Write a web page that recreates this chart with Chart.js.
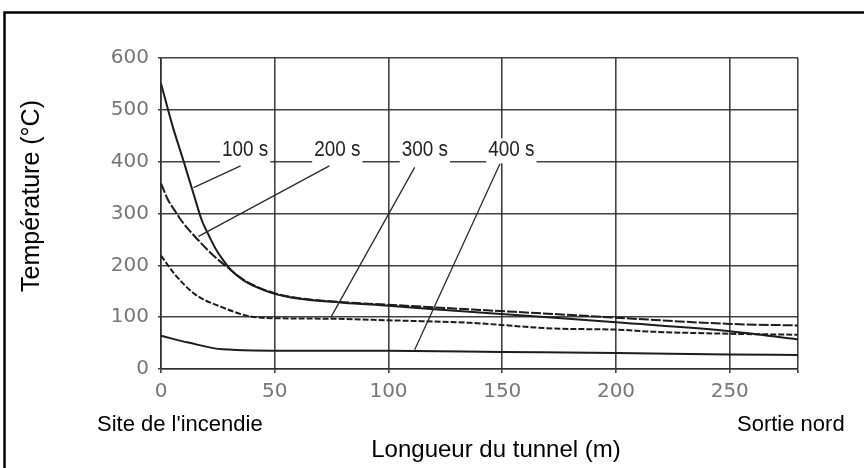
<!DOCTYPE html>
<html lang="fr">
<head>
<meta charset="utf-8">
<title>Température dans le tunnel</title>
<script src="https://cdn.jsdelivr.net/npm/chart.js@4/dist/chart.umd.min.js"></script>
<style>
  html, body { margin: 0; padding: 0; background: #fff; }
  #wrap { position: relative; width: 864px; height: 468px; }
</style>
</head>
<body>
<div id="wrap"><canvas id="c"></canvas></div>
<script>
// Axis ticks
const xTicks = [0, 50, 100, 150, 200, 250, 280];
const yTicks = [0, 100, 200, 300, 400, 500, 600];

// Temperature profiles along the tunnel (distance in m, temperature in °C)
const dist100 = [0, 5, 10, 14.3, 18, 21, 24, 27, 31, 36, 42, 50, 60, 80, 100, 140, 170, 200, 250, 280];
const temp100 = [551, 470, 400, 338, 286, 258, 232, 212, 190, 172, 158, 145, 136, 128, 122, 109, 100, 90, 73, 57];

const dist200 = [0, 3, 6, 9, 16.5, 24, 29, 36, 42, 50, 60, 80, 100, 140, 173, 200, 250, 280];
const temp200 = [358, 327, 306, 286, 248, 215, 197, 173, 159, 146, 137, 129, 124, 114, 106, 99, 87, 84];

const dist300 = [0, 6, 15, 27, 38.6, 50, 75, 100, 136, 173, 200, 216, 250, 280];
const temp300 = [219, 183, 144, 119, 102, 98, 97, 94, 89, 78, 76, 72, 68, 66];

const dist400 = [0, 12, 27, 59, 100, 150, 200, 250, 280];
const temp400 = [64, 51, 38, 35, 35, 33, 31, 28, 27];

// Curve labels and their leader lines (data coordinates)
const labelText = ['100 s', '200 s', '300 s', '400 s'];
const labelX = [37, 77.5, 116, 154];
const labelY = [422, 422, 422, 422];
const leaderFromX = [35, 74, 111.5, 149];
const leaderFromY = [392, 392, 389, 396];
const leaderToX = [14.3, 16.5, 74.6, 111.5];
const leaderToY = [350, 256, 99, 37];

const pts = (xs, ys) => xs.map((v, i) => ({ x: v, y: ys[i] }));

const ink = '#1c1c1c';
const gridInk = 'rgba(45,45,45,0.9)';
const tickInk = '#767676';
const textFont = '"Liberation Sans", Arial, Helvetica, sans-serif';
const tickFont = { family: '"DejaVu Sans", Verdana, sans-serif', size: 20 };

const series = [
  { label: '100 s', data: pts(dist100, temp100), borderDash: [] },
  { label: '200 s', data: pts(dist200, temp200), borderDash: [10, 2] },
  { label: '300 s', data: pts(dist300, temp300), borderDash: [6, 2] },
  { label: '400 s', data: pts(dist400, temp400), borderDash: [] }
].map(s => Object.assign(s, {
  borderColor: ink,
  borderWidth: 2,
  pointRadius: 0,
  fill: false,
  cubicInterpolationMode: 'monotone'
}));

// Leader lines, boxed labels, titles and outer frame
const annotate = {
  id: 'annotate',
  afterDatasetsDraw(chart) {
    const { ctx, scales: { x, y } } = chart;
    ctx.save();
    ctx.strokeStyle = '#2a2a2a';
    ctx.lineWidth = 1.3;
    for (let i = 0; i < leaderFromX.length; i++) {
      ctx.beginPath();
      ctx.moveTo(x.getPixelForValue(leaderFromX[i]), y.getPixelForValue(leaderFromY[i]));
      ctx.lineTo(x.getPixelForValue(leaderToX[i]), y.getPixelForValue(leaderToY[i]));
      ctx.stroke();
    }
    ctx.font = '22px ' + textFont;
    ctx.textAlign = 'center';
    ctx.textBaseline = 'middle';
    const squeeze = 0.86;
    for (let i = 0; i < labelText.length; i++) {
      const px = x.getPixelForValue(labelX[i]);
      const py = y.getPixelForValue(labelY[i]);
      const w = ctx.measureText(labelText[i]).width * squeeze;
      ctx.fillStyle = '#fff';
      ctx.fillRect(px - w / 2 - 2, py - 12, w + 4, 25);
      ctx.save();
      ctx.translate(px, py);
      ctx.scale(squeeze, 1);
      ctx.fillStyle = '#222';
      ctx.fillText(labelText[i], 0, 0);
      ctx.restore();
    }
    ctx.restore();
  },
  afterDraw(chart) {
    const { ctx } = chart;
    ctx.save();
    ctx.fillStyle = '#000';
    ctx.textBaseline = 'middle';
    ctx.textAlign = 'left';
    ctx.font = '22px ' + textFont;
    ctx.fillText("Site de l'incendie", 97, 425);
    ctx.fillText('Sortie nord', 737, 425);
    ctx.font = '24px ' + textFont;
    ctx.textAlign = 'center';
    ctx.fillText('Longueur du tunnel (m)', 496, 450);
    ctx.font = '25px ' + textFont;
    ctx.translate(32, 196);
    ctx.rotate(-Math.PI / 2);
    ctx.fillText('Température (°C)', 0, 0);
    ctx.restore();

    ctx.save();
    ctx.strokeStyle = '#000';
    ctx.lineWidth = 2.5;
    ctx.beginPath();
    ctx.moveTo(4.5, 468);
    ctx.lineTo(4.5, 12.5);
    ctx.lineTo(864, 12.5);
    ctx.stroke();
    ctx.restore();
  }
};

new Chart(document.getElementById('c'), {
  type: 'line',
  data: { datasets: series },
  options: {
    responsive: true,
    maintainAspectRatio: false,
    animation: false,
    layout: { padding: { top: 58, right: 66, left: 0, bottom: 0 } },
    plugins: { legend: { display: false }, tooltip: { enabled: false }, title: { display: false } },
    scales: {
      x: {
        type: 'linear',
        min: 0,
        max: 280,
        afterBuildTicks: s => { s.ticks = xTicks.map(v => ({ value: v })); },
        afterFit: s => { s.height = 99; },
        grid: { color: gridInk, lineWidth: 1.6, drawTicks: true, tickLength: 4 },
        border: { color: gridInk, width: 1.6 },
        ticks: {
          color: tickInk,
          padding: 7,
          maxRotation: 0,
          autoSkip: false,
          font: tickFont,
          callback: v => (v % 50 === 0 ? String(v) : '')
        }
      },
      y: {
        min: 0,
        max: 600,
        afterBuildTicks: s => { s.ticks = yTicks.map(v => ({ value: v })); },
        afterFit: s => { s.width = 161; },
        grid: { color: gridInk, lineWidth: 1.6, drawTicks: true, tickLength: 3 },
        border: { color: gridInk, width: 1.6 },
        ticks: {
          color: tickInk,
          padding: 9,
          font: tickFont
        }
      }
    }
  },
  plugins: [annotate]
});
</script>
</body>
</html>
